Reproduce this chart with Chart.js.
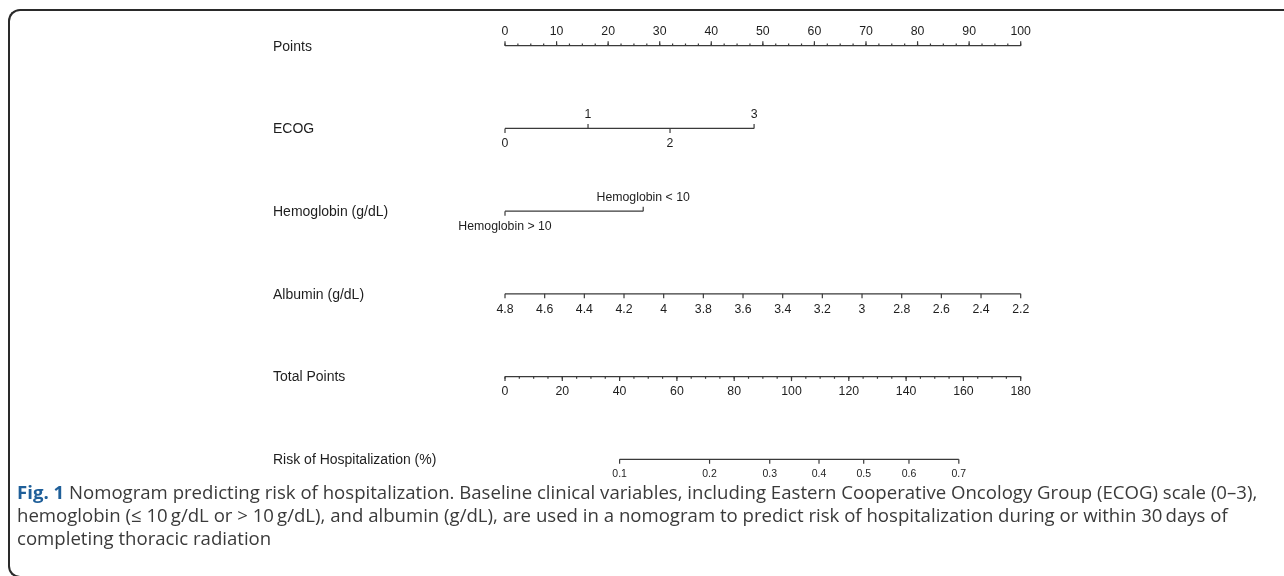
<!DOCTYPE html>
<html>
<head>
<meta charset="utf-8">
<script src="https://cdn.jsdelivr.net/npm/chart.js@4.4.1/dist/chart.umd.min.js"></script>
<style>
  html, body { margin: 0; padding: 0; background: #fff; overflow: hidden; }
  body { width: 1284px; height: 576px; position: relative; }
  .frame {
    position: absolute; left: 8px; top: 9px; width: 1300px; height: 569px;
    border: 2px solid #2a2a2a; border-right: none; border-radius: 12px 0 0 12px;
    box-sizing: border-box;
  }
  #chartWrap { position: absolute; left: 0; top: 0; width: 1284px; height: 480px; }
  .caption {
    position: absolute; left: 17px; top: 480px;
    font-family: 'Open Sans', sans-serif; font-size: 18.6px; line-height: 23px;
    color: #3a3a3a; white-space: nowrap;
  }
  .caption b { color: #1f5f99; font-weight: 700; }
</style>
</head>
<body>
<div class="frame"></div>
<div id="chartWrap"><canvas id="nomo" width="1284" height="480"></canvas></div>
<div class="caption">
  <b>Fig. 1</b> Nomogram predicting risk of hospitalization. Baseline clinical variables, including Eastern Cooperative Oncology Group (ECOG) scale (0–3),<br>
  hemoglobin (≤ 10&thinsp;g/dL or &gt; 10&thinsp;g/dL), and albumin (g/dL), are used in a nomogram to predict risk of hospitalization during or within 30&thinsp;days of<br>
  completing thoracic radiation
</div>
<script>
// --- data ---
const rowLabels = ['Points', 'ECOG', 'Hemoglobin (g/dL)', 'Albumin (g/dL)', 'Total Points', 'Risk of Hospitalization (%)'];

const pointsTicks = [0, 10, 20, 30, 40, 50, 60, 70, 80, 90, 100];

const ecogLabels = ['0', '1', '2', '3'];
const ecogPoints = [0, 16.1, 32.0, 48.3];

const hemoLabels = ['Hemoglobin > 10', 'Hemoglobin < 10'];
const hemoPoints = [0, 26.8];

const albuminTicks = [4.8, 4.6, 4.4, 4.2, 4.0, 3.8, 3.6, 3.4, 3.2, 3.0, 2.8, 2.6, 2.4, 2.2];

const totalTicks = [0, 20, 40, 60, 80, 100, 120, 140, 160, 180];

const riskLabels = ['0.1', '0.2', '0.3', '0.4', '0.5', '0.6', '0.7'];
const riskTotalPoints = [40.0, 71.4, 92.4, 109.6, 125.2, 141.0, 158.4];

// one entry per nomogram row; side = which way the tick and its label go
const rows = [
  { scale: 'x', minorStep: 2.5, minorSide: 'up',
    marks: pointsTicks.map(v => ({ v, text: String(v), side: 'up' })) },
  { scale: 'x',
    marks: ecogPoints.map((v, i) => ({ v, text: ecogLabels[i], side: i % 2 ? 'up' : 'down' })) },
  { scale: 'x',
    marks: hemoPoints.map((v, i) => ({ v, text: hemoLabels[i], side: i ? 'up' : 'down' })) },
  { scale: 'xAlb',
    marks: albuminTicks.map(v => ({ v, text: String(v), side: 'down' })) },
  { scale: 'xTotal', minorStep: 5, minorSide: 'down',
    marks: totalTicks.map(v => ({ v, text: String(v), side: 'down' })) },
  { scale: 'xTotal', small: true,
    marks: riskTotalPoints.map((v, i) => ({ v, text: riskLabels[i], side: 'down' })) }
];

const INK = '#1e1e1e';
const LINE = '#3a3a3a';
const FONT = "'Liberation Sans', Arial, sans-serif";

// axis segment of each row, from its first to its last mark
const datasets = rows.map((row, r) => ({
  data: [
    { x: row.marks[0].v, y: r },
    { x: row.marks[row.marks.length - 1].v, y: r }
  ],
  xAxisID: row.scale,
  yAxisID: 'y',
  borderColor: LINE,
  borderWidth: 1.3,
  pointRadius: 0,
  clip: false
}));

const nomogramPlugin = {
  id: 'nomogramMarks',
  afterDatasetsDraw(chart) {
    const { ctx, scales } = chart;
    const yScale = scales.y;
    ctx.save();
    ctx.strokeStyle = LINE;
    ctx.lineWidth = 1.2;
    ctx.fillStyle = INK;
    ctx.textBaseline = 'middle';

    rows.forEach((row, r) => {
      const xs = scales[row.scale];
      const y = yScale.getPixelForValue(r);

      // small ticks
      if (row.minorStep) {
        const lo = row.marks[0].v, hi = row.marks[row.marks.length - 1].v;
        const dir = row.minorSide === 'up' ? -1 : 1;
        for (let v = lo; v <= hi + 1e-9; v += row.minorStep) {
          const xp = xs.getPixelForValue(v);
          ctx.beginPath();
          ctx.moveTo(xp, y);
          ctx.lineTo(xp, y + dir * 2.2);
          ctx.stroke();
        }
      }

      // labelled ticks
      ctx.font = (row.small ? '10.5px ' : '12.3px ') + FONT;
      ctx.textAlign = 'center';
      row.marks.forEach(m => {
        const xp = xs.getPixelForValue(m.v);
        const dir = m.side === 'up' ? -1 : 1;
        ctx.beginPath();
        ctx.moveTo(xp, y);
        ctx.lineTo(xp, y + dir * 4.5);
        ctx.stroke();
        ctx.fillText(m.text, xp, y + (m.side === 'up' ? -13.8 : 15.3));
      });

      // row title on the left
      ctx.font = '14px ' + FONT;
      ctx.textAlign = 'left';
      ctx.fillText(rowLabels[r], 273, y + 1);
    });
    ctx.restore();
  }
};

new Chart(document.getElementById('nomo'), {
  type: 'line',
  data: { datasets },
  options: {
    responsive: false,
    animation: false,
    devicePixelRatio: 1,
    layout: { padding: { left: 505, right: 263.3, top: 45.7, bottom: 20.7 } },
    plugins: { legend: { display: false }, tooltip: { enabled: false } },
    events: [],
    scales: {
      x: { type: 'linear', min: 0, max: 100, display: false },
      xTotal: { type: 'linear', axis: 'x', min: 0, max: 180, display: false },
      xAlb: { type: 'linear', axis: 'x', min: 2.2, max: 4.8, reverse: true, display: false },
      y: { type: 'linear', min: 0, max: 5, reverse: true, display: false }
    }
  },
  plugins: [nomogramPlugin]
});
</script>
</body>
</html>
